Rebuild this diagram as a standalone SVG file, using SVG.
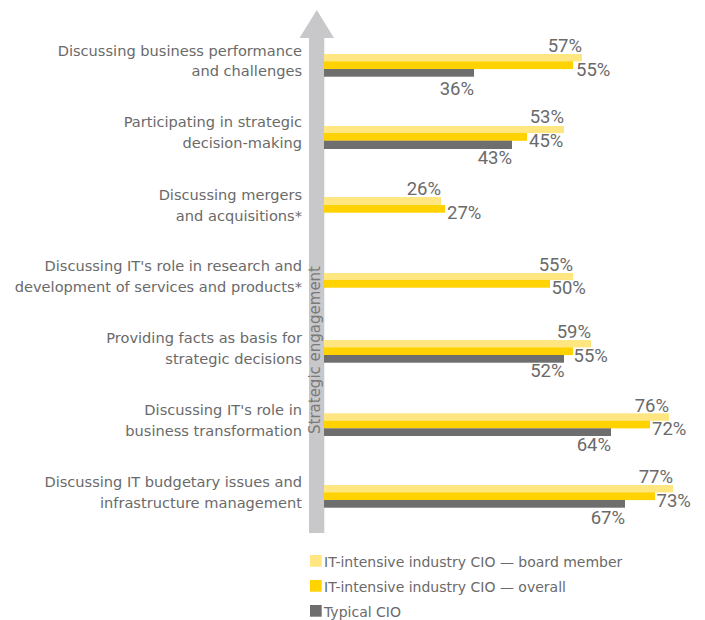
<svg xmlns="http://www.w3.org/2000/svg" width="705" height="620" viewBox="0 0 705 620">
<style>
.lbl{font-family:"DejaVu Sans","Liberation Sans",sans-serif;font-size:14.6px;fill:#6a6a6a;text-anchor:end}
.pct{font-family:Roboto,"Liberation Sans",sans-serif;font-size:18.5px;fill:#6a6a6a}
.e{text-anchor:end}
.leg{font-family:"DejaVu Sans","Liberation Sans",sans-serif;font-size:14px;fill:#6a6a6a}
.ax{font-family:"DejaVu Sans","Liberation Sans",sans-serif;font-size:15px;fill:#7a7a7a;text-anchor:middle}
.b1{fill:#ffe680}
.b2{fill:#ffd200}
.b3{fill:#6e6e6e}
</style>
<rect width="705" height="620" fill="#ffffff"/>
<g id="connectors">
<polygon points="309,533 309,38 299.5,38 316.8,10 334,38 324.3,38 324.3,533" fill="#c8c8ca"/>
<text class="ax" transform="translate(319.5,350) rotate(-90)">Strategic engagement</text>
</g>
<g id="g1">
<text class="lbl" x="302" y="56">Discussing business performance</text>
<text class="lbl" x="302" y="76">and challenges</text>
<rect class="b1" x="324" y="54" width="258" height="7.4"/>
<rect class="b2" x="324" y="61.3" width="249" height="7.8"/>
<rect class="b3" x="324" y="69" width="150" height="7.7"/>
<text class="pct e" x="582" y="52">57%</text>
<text class="pct" x="576" y="76">55%</text>
<text class="pct e" x="474" y="95">36%</text>
</g>
<g id="g2">
<text class="lbl" x="302" y="126.7">Participating in strategic</text>
<text class="lbl" x="302" y="147.7">decision-making</text>
<rect class="b1" x="324" y="126" width="240" height="7.1"/>
<rect class="b2" x="324" y="133" width="203" height="7.8"/>
<rect class="b3" x="324" y="140.7" width="188" height="8.3"/>
<text class="pct e" x="564" y="123">53%</text>
<text class="pct" x="529" y="147.3">45%</text>
<text class="pct e" x="512" y="164">43%</text>
</g>
<g id="g3">
<text class="lbl" x="302" y="200">Discussing mergers</text>
<text class="lbl" x="302" y="221.3">and acquisitions*</text>
<rect class="b1" x="324" y="197" width="117" height="8.1"/>
<rect class="b2" x="324" y="205" width="121" height="7.7"/>
<text class="pct e" x="441" y="195">26%</text>
<text class="pct" x="447" y="218.5">27%</text>
</g>
<g id="g4">
<text class="lbl" x="302" y="270.7">Discussing IT's role in research and</text>
<text class="lbl" x="302" y="291.7">development of services and products*</text>
<rect class="b1" x="324" y="273" width="249" height="7.1"/>
<rect class="b2" x="324" y="280" width="226" height="7.7"/>
<text class="pct e" x="573" y="270.5">55%</text>
<text class="pct" x="551.5" y="294">50%</text>
</g>
<g id="g5">
<text class="lbl" x="302" y="343.3">Providing facts as basis for</text>
<text class="lbl" x="302" y="364.3">strategic decisions</text>
<rect class="b1" x="324" y="340" width="267" height="7.4"/>
<rect class="b2" x="324" y="347.3" width="249" height="7.8"/>
<rect class="b3" x="324" y="355" width="240" height="7.7"/>
<text class="pct e" x="591" y="338.3">59%</text>
<text class="pct" x="573.5" y="361.7">55%</text>
<text class="pct e" x="564.5" y="377.3">52%</text>
</g>
<g id="g6">
<text class="lbl" x="302" y="415">Discussing IT's role in</text>
<text class="lbl" x="302" y="436">business transformation</text>
<rect class="b1" x="324" y="413.3" width="345" height="7.5"/>
<rect class="b2" x="324" y="420.7" width="326" height="7.7"/>
<rect class="b3" x="324" y="428.3" width="287" height="7.7"/>
<text class="pct e" x="669" y="411.7">76%</text>
<text class="pct" x="652" y="435">72%</text>
<text class="pct e" x="611" y="450.7">64%</text>
</g>
<g id="g7">
<text class="lbl" x="302" y="486.7">Discussing IT budgetary issues and</text>
<text class="lbl" x="302" y="507.9">infrastructure management</text>
<rect class="b1" x="324" y="485" width="349" height="7.4"/>
<rect class="b2" x="324" y="492.3" width="331" height="7.8"/>
<rect class="b3" x="324" y="500" width="301" height="7.7"/>
<text class="pct e" x="673" y="482.8">77%</text>
<text class="pct" x="656.5" y="507.3">73%</text>
<text class="pct e" x="625" y="524">67%</text>
</g>
<g id="legend">
<rect class="b1" x="310" y="555" width="11.7" height="11.7"/>
<text class="leg" x="324" y="566.7">IT-intensive industry CIO — board member</text>
<rect class="b2" x="310" y="580" width="11.7" height="11.7"/>
<text class="leg" x="324" y="591.7">IT-intensive industry CIO — overall</text>
<rect class="b3" x="310" y="605" width="11.7" height="11.7"/>
<text class="leg" x="324" y="616.7">Typical CIO</text>
</g>
</svg>
